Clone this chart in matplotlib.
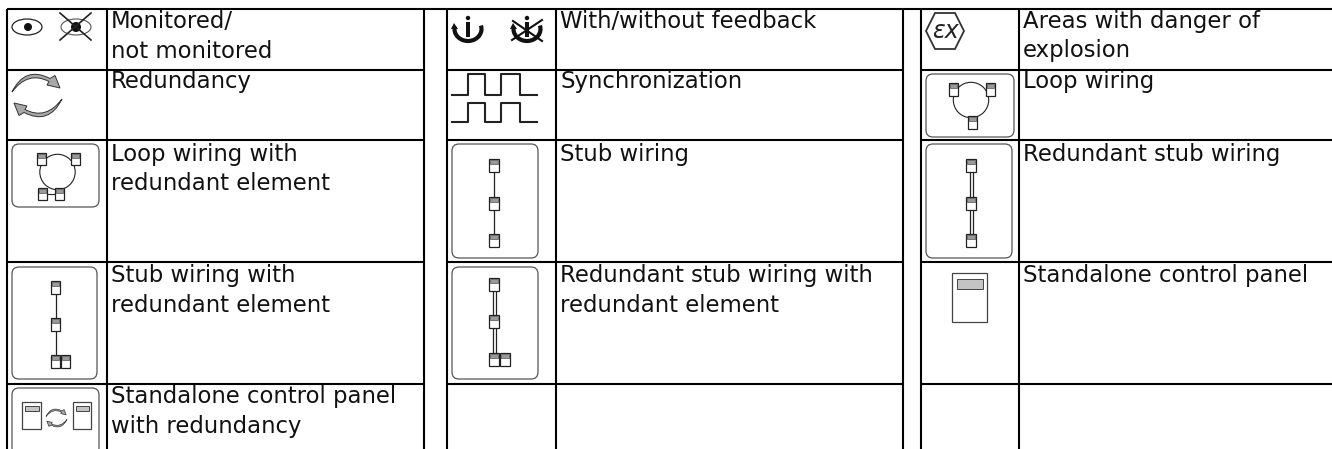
import matplotlib
matplotlib.use('Agg')
import numpy as np
import matplotlib.pyplot as plt
from matplotlib.patches import FancyBboxPatch, Rectangle, Circle, Ellipse, Arc, Polygon, PathPatch
from matplotlib.path import Path

plt.rcParams['font.family'] = ['DejaVu Sans']

col1_labels = [['Monitored/', 'not monitored'], ['Redundancy'],
               ['Loop wiring with', 'redundant element'],
               ['Stub wiring with', 'redundant element'],
               ['Standalone control panel', 'with redundancy']]
col2_labels = [['With/without feedback'], ['Synchronization'], ['Stub wiring'],
               ['Redundant stub wiring with', 'redundant element'], []]
col3_labels = [['Areas with danger of', 'explosion'], ['Loop wiring'],
               ['Redundant stub wiring'], ['Standalone control panel'], []]

W, H = 1332, 449
fig = plt.figure(figsize=(W / 100, H / 100), dpi=100)
ax = fig.add_axes([0, 0, 1, 1])
ax.set_xlim(0, W)
ax.set_ylim(H, 0)
ax.axis('off')

# table grid, pixel layout
row_y = [9, 70, 140, 262, 384]
text_y = [28, 88, 161, 282, 403]
blocks = [(7, 107, 424), (447, 556, 903), (921, 1019, 1332)]
GRID = 1.5

ax.plot([7, W], [row_y[0], row_y[0]], color='black', lw=GRID, solid_capstyle='butt')
for left, mid, right in blocks:
    for y in row_y[1:]:
        ax.plot([left, right], [y, y], color='black', lw=GRID, solid_capstyle='butt')
    for x in (left, mid, right):
        if x < W:
            ax.plot([x, x], [row_y[0], H], color='black', lw=GRID, solid_capstyle='butt')

for (left, mid, right), labels in zip(blocks, [col1_labels, col2_labels, col3_labels]):
    for y, lines in zip(text_y, labels):
        for i, line in enumerate(lines):
            ax.text(mid + 4, y + i * 29.5, line, fontsize=16.4, color='#111111',
                    ha='left', va='baseline')


def frame(x0, y0, x1, y1):
    ax.add_patch(FancyBboxPatch((x0 + 6, y0 + 6), x1 - x0 - 12, y1 - y0 - 12,
                                boxstyle='round,pad=6,rounding_size=7',
                                fc='white', ec='#555555', lw=0.9, zorder=2))


def device(x, y, w=9.5, h=13):
    ax.add_patch(Rectangle((x, y), w, h, fc='white', ec='#222222', lw=0.9, zorder=4))
    ax.add_patch(Rectangle((x + 0.8, y + 1), w - 1.6, 3.5, fc='#999999', ec='#333333', lw=0.4, zorder=5))


def wire(x, y0, y1, double=False):
    xs = [x - 1.5, x + 1.5] if double else [x]
    for xx in xs:
        ax.plot([xx, xx], [y0, y1], color='#222222', lw=0.9, zorder=3)


def panel(x0, y0, x1, y1, inset=3.5, d_h=6):
    ax.add_patch(Rectangle((x0, y0), x1 - x0, y1 - y0, fc='white', ec='#444444', lw=0.9, zorder=4))
    ax.add_patch(Rectangle((x0 + inset, y0 + inset + 1), x1 - x0 - 2 * inset, d_h,
                           fc='#c4c4c4', ec='#444444', lw=0.7, zorder=5))


def swoosh(cx, cy, scale=1.0):
    verts = np.array([(-25, -3.5), (-12, -30), (13, -17), (18, -20), (23, -7.5),
                      (10, -10.5), (12, -14), (-9, -25), (-25, -3.5)], dtype=float)
    codes = [Path.MOVETO, Path.CURVE3, Path.CURVE3, Path.LINETO, Path.LINETO,
             Path.LINETO, Path.LINETO, Path.CURVE3, Path.CURVE3]
    for sign in (1, -1):
        pts = np.column_stack([cx + sign * scale * verts[:, 0], cy + sign * scale * verts[:, 1]])
        ax.add_patch(PathPatch(Path(pts, codes), fc='#a8a8a8', ec='#333333',
                               lw=0.7 if scale == 1 else 0.5, zorder=4))


def feedback(cx, crossed=False):
    ax.add_patch(Arc((cx, 29), 27, 24, theta1=-15, theta2=190, color='#111111', lw=3, zorder=4))
    ax.add_patch(Polygon([(cx - 17, 29), (cx - 10, 29), (cx - 14, 23)], fc='#111111', ec='none', zorder=4))
    ax.add_patch(Circle((cx, 18), 2.2, fc='#111111', ec='none', zorder=4))
    ax.add_patch(Rectangle((cx - 2, 22), 4, 15, fc='#111111', ec='none', zorder=4))
    if crossed:
        ax.plot([cx - 15, cx + 15], [40, 20], color='#111111', lw=1.5, zorder=5)
        ax.plot([cx - 14, cx + 15], [21, 41], color='#111111', lw=1.5, zorder=5)


# eye icons
ax.add_patch(Ellipse((27, 27), 30, 16, fc='white', ec='#222222', lw=0.9))
ax.add_patch(Circle((28, 27), 4, fc='#111111', ec='none'))
ax.add_patch(Ellipse((76, 27), 30, 16, fc='white', ec='#555555', lw=0.8))
ax.add_patch(Circle((76, 27), 5, fc='#111111', ec='none', zorder=3))
ax.plot([60, 91], [13, 40], color='#222222', lw=1.2, zorder=4)
ax.plot([60, 91], [40, 13], color='#222222', lw=1.2, zorder=4)

swoosh(37, 95.5)

# loop wiring with redundant element
frame(12, 144, 99, 207)
ax.add_patch(Circle((57.5, 172), 17.7, fc='none', ec='#222222', lw=0.8, zorder=3))
ax.plot([46, 55], [194, 194], color='#222222', lw=0.8, zorder=3)
for x, y in [(37, 153), (71, 153), (38, 188), (55, 188)]:
    device(x, y, 8.5, 12)

# stub wiring with redundant element
frame(12, 267, 97, 379)
wire(55.5, 290, 357)
for x, y in [(51, 281), (51, 318), (51, 355), (61, 355)]:
    device(x, y, 9, 13)

# standalone panel with redundancy
frame(12, 388, 99, 455)
panel(22, 402, 41, 429, 2.5, 5)
panel(73, 402, 91, 429, 2.5, 5)
swoosh(56.5, 418, 0.42)

feedback(468)
feedback(527, crossed=True)

# synchronization pulses
for y_lo, y_hi in [(95, 74), (122, 103)]:
    ax.plot([452, 468, 468, 485, 485, 501, 501, 520, 520, 537],
            [y_lo, y_lo, y_hi, y_hi, y_lo, y_lo, y_hi, y_hi, y_lo, y_lo],
            color='#222222', lw=1.5)

# stub wiring
frame(452, 144, 538, 258)
wire(494, 165, 240)
for y in (159, 197, 234):
    device(489, y, 10, 13)

# redundant stub wiring with redundant element
frame(452, 267, 538, 379)
wire(494, 285, 358, double=True)
for x, y in [(489, 278), (489, 315), (489, 353), (500, 353)]:
    device(x, y, 10, 13)

# ex hexagon
ax.add_patch(Polygon([(926, 31), (935, 13), (955, 13), (964, 31), (955, 49), (935, 49)],
                     fc='white', ec='#333333', lw=1.3, zorder=3))
ax.text(945, 31, '\u03b5x', fontsize=17, color='#222222', ha='center', va='center', zorder=4,
        family=['DejaVu Sans'], style='italic')

# loop wiring
frame(926, 74, 1014, 137)
ax.add_patch(Circle((971, 100), 17.7, fc='none', ec='#222222', lw=0.8, zorder=3))
for x, y in [(949, 83), (986, 83), (968, 116)]:
    device(x, y, 9, 13)

# redundant stub wiring
frame(926, 144, 1012, 258)
wire(971, 165, 240, double=True)
for y in (159, 197, 234):
    device(966, y, 10, 13)

panel(952, 273, 987, 322, 4.5, 10)

fig.savefig('out.png', dpi=100)
